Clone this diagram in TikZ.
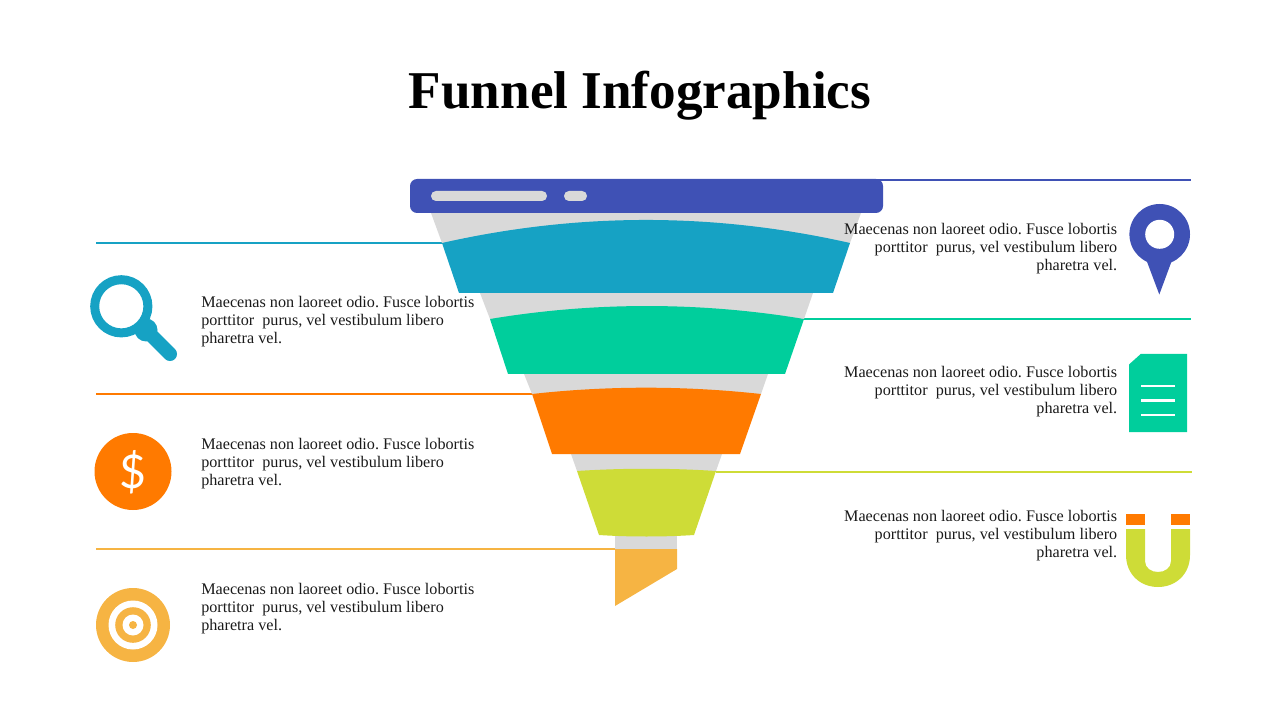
\documentclass[tikz,border=0pt]{standalone}
\usepackage{fontspec}
\setmainfont{Liberation Serif}
\newfontfamily\dollarfont{Lato}
\definecolor{pinblue}{HTML}{3F51B5}
\definecolor{lensteal}{HTML}{16A2C4}
\definecolor{docgreen}{HTML}{00CE9C}
\definecolor{coinorange}{HTML}{FF7A00}
\definecolor{magnetlime}{HTML}{CEDC37}
\definecolor{targetamber}{HTML}{F6B443}
\definecolor{neckgray}{HTML}{D9D9D9}
\definecolor{bodyink}{HTML}{1A1A1A}
\tikzset{
  titletext/.style={font=\fontsize{37.8}{40}\selectfont\bfseries,text=black},
  bodytext/.style={font=\frenchspacing\fontsize{11.5}{12.8}\selectfont,text=bodyink,inner sep=0pt},
  leader/.style={line width=1.4pt},
  pill/.style={fill=neckgray,rounded corners=3.5pt}
}
\begin{document}
\begin{tikzpicture}[x=0.025cm,y=-0.025cm]
  \useasboundingbox (0,0) rectangle (1280,720);
  \node[titletext] (title) at (640,95.5) {Funnel Infographics};

  % leader ends
  \coordinate (lensA)   at (96,243);   \coordinate (lensB)   at (443,243);
  \coordinate (coinA)   at (96,394);   \coordinate (coinB)   at (532,394);
  \coordinate (targetA) at (96,549);   \coordinate (targetB) at (615,549);
  \coordinate (pinA)    at (860,180);  \coordinate (pinB)    at (1191,180);
  \coordinate (docA)    at (804,319);  \coordinate (docB)    at (1191,319);
  \coordinate (magnetA) at (716,472);  \coordinate (magnetB) at (1192,472);
  \foreach \n/\c in {lens/lensteal,coin/coinorange,target/targetamber,pin/pinblue,doc/docgreen,magnet/magnetlime}
    \draw[leader,color=\c] (\n A) -- (\n B);

  % funnel
  \fill[neckgray] (431,213) -- (861,213) -- (850,243) -- (442,243) -- cycle;
  \fill[neckgray] (480,293) -- (813,293) -- (804,319) -- (490,319) -- cycle;
  \fill[neckgray] (524,374) -- (768,374) -- (761,394) -- (532,394) -- cycle;
  \fill[neckgray] (571,454) -- (722,454) -- (716,471) -- (577,471) -- cycle;
  \fill[neckgray] (615,535) rectangle (677,549);
  \fill[lensteal] (442,243) .. controls (578,212.3) and (714,212.3) .. (850,243) -- (833,293) -- (459,293) -- cycle;
  \fill[docgreen] (490,319) .. controls (594,301.7) and (700,301.7) .. (804,319) -- (785,374) -- (508,374) -- cycle;
  \fill[coinorange] (532,394) .. controls (608,385.6) and (684,385.6) .. (761,394) -- (740,454) -- (552,454) -- cycle;
  \fill[magnetlime] (577,471) .. controls (623,468) and (670,468) .. (716,471) -- (694,535) .. controls (665,537) and (628,537) .. (599,535) -- cycle;
  \fill[targetamber] (615,549) -- (677,549) -- (677,569) -- (615,606) -- cycle;
  \fill[pinblue,rounded corners=5pt] (410,179) rectangle (883,213);
  \fill[pill] (431,191) rectangle (547,201);
  \fill[pill] (564,191) rectangle (587,201);

  % texts
  \foreach \n/\y in {lens/320,coin/462,target/607}
    \node[bodytext,align=left,anchor=west] (\n text) at (201,\y+2) {Maecenas non laoreet odio. Fusce lobortis\\porttitor\ \ purus, vel vestibulum libero\\pharetra vel.};
  \foreach \n/\y in {pin/247,doc/390,magnet/534}
    \node[bodytext,align=right,anchor=east] (\n text) at (1117.5,\y+2) {Maecenas non laoreet odio. Fusce lobortis\\porttitor\ \ purus, vel vestibulum libero\\pharetra vel.};

  % magnifier
  \fill[lensteal] (146,330) circle [radius=11.5];
  \draw[lensteal,line width=10pt,line cap=round] (147,331) -- (170,354);
  \draw[lensteal,line width=6.4pt,fill=white] (121.3,306.3) circle [radius=26.6];

  % coin
  \node[circle,fill=coinorange,minimum size=77*0.025cm,inner sep=0pt] (coin) at (133,471.5) {};
  \node[font=\dollarfont\fontsize{33}{33}\selectfont,text=white,inner sep=0pt] (dollar) at (133,472) {\$};

  % target
  \fill[targetamber] (133,625) circle [radius=37];
  \fill[white] (133,625) circle [radius=24.5];
  \fill[targetamber] (133,625) circle [radius=17.8];
  \fill[white] (133,625) circle [radius=10.5];
  \fill[targetamber] (133,625) circle [radius=4];

  % pin
  \fill[pinblue] (1146.7,261) -- (1159.3,294.5) -- (1171.7,261) -- cycle;
  \fill[pinblue] (1159.7,234.3) circle [radius=30.3];
  \fill[white] (1159.7,234.3) circle [radius=14.5];

  % document
  \fill[docgreen] (1129,364.5) -- (1140.7,354) -- (1187,354) -- (1187,432) -- (1129,432) -- cycle;
  \foreach \y/\w in {386/1.1pt,400.3/1.8pt,415/1.1pt}
    \draw[white,line width=\w] (1141,\y) -- (1175,\y);

  % magnet
  \fill[coinorange] (1126,514) rectangle (1145,525);
  \fill[coinorange] (1171,514) rectangle (1190,525);
  \fill[magnetlime] (1126,529) -- (1126,555) .. controls (1126,574) and (1140,587) .. (1158,587) .. controls (1176,587) and (1190,574) .. (1190,555) -- (1190,529) -- (1171,529) -- (1171,561) .. controls (1171,568) and (1165,572) .. (1158,572) .. controls (1151,572) and (1145,568) .. (1145,561) -- (1145,529) -- cycle;
\end{tikzpicture}
\end{document}
